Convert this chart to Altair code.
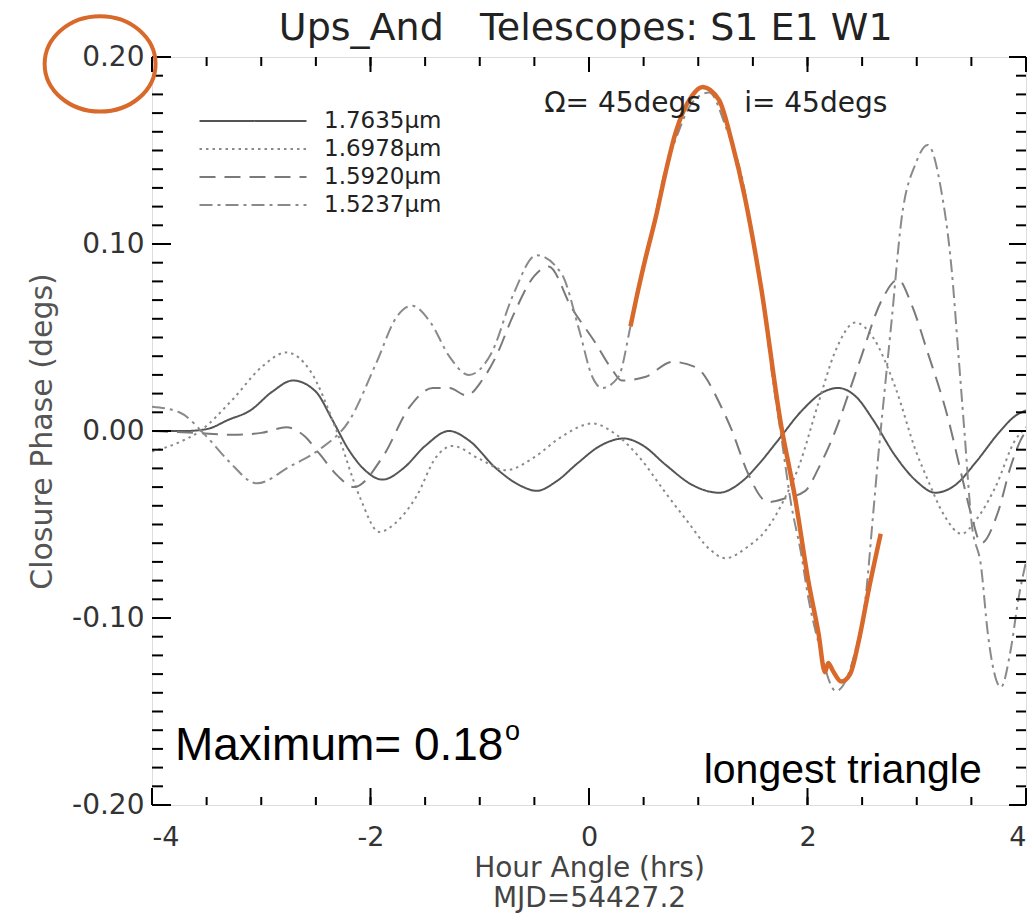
import altair as alt
import pandas as pd

# ---------------- data ----------------
series_names = ["1.7635µm", "1.6978µm", "1.5920µm", "1.5237µm"]

solid_x = [-4.0, -3.7, -3.5, -3.3, -3.1, -2.9, -2.71, -2.5, -2.35, -2.2, -2.05, -1.89, -1.7, -1.5,
           -1.28, -1.1, -0.85, -0.6, -0.48, -0.3, -0.1, 0.1, 0.32, 0.5, 0.7, 0.95, 1.19, 1.4,
           1.55, 1.73, 1.95, 2.15, 2.28, 2.45, 2.6, 2.8, 3.0, 3.17, 3.35, 3.55, 3.75, 3.9, 4.0]
solid_y = [0.000, 0.000, 0.001, 0.006, 0.011, 0.021, 0.027, 0.021, 0.006, -0.010, -0.021, -0.026,
           -0.020, -0.008, 0.000, -0.005, -0.020, -0.030, -0.032, -0.027, -0.017, -0.008, -0.004,
           -0.008, -0.018, -0.029, -0.033, -0.027, -0.018, -0.005, 0.011, 0.021, 0.023, 0.018,
           0.006, -0.013, -0.027, -0.033, -0.029, -0.016, -0.001, 0.008, 0.011]

dotted_x = [-4.0, -3.75, -3.56, -3.26, -3.0, -2.77, -2.55, -2.31, -2.1, -1.92, -1.75, -1.58, -1.4,
            -1.25, -1.0, -0.76, -0.5, -0.25, 0.03, 0.25, 0.46, 0.7, 0.91, 1.1, 1.25, 1.45, 1.62,
            1.8, 1.92, 2.1, 2.25, 2.44, 2.6, 2.8, 3.0, 3.1, 3.25, 3.41, 3.55, 3.72, 3.9, 4.0]
dotted_y = [-0.011, -0.006, 0.000, 0.017, 0.034, 0.042, 0.032, 0.000, -0.035, -0.054, -0.048,
            -0.035, -0.014, -0.008, -0.015, -0.021, -0.014, -0.003, 0.004, -0.002, -0.014, -0.033,
            -0.049, -0.063, -0.068, -0.062, -0.053, -0.035, -0.019, 0.015, 0.042, 0.058, 0.050,
            0.024, -0.012, -0.026, -0.045, -0.055, -0.047, -0.030, -0.005, 0.002]

dashed_x = [-4.0, -3.6, -3.26, -3.0, -2.77, -2.6, -2.47, -2.3, -2.15, -1.89, -1.64, -1.43, -1.28,
            -1.12, -0.98, -0.85, -0.7, -0.5, -0.37, -0.16, 0.06, 0.21, 0.30, 0.52, 0.76, 0.98,
            1.21, 1.31, 1.45, 1.64, 1.8, 1.98, 2.1, 2.22, 2.47, 2.68, 2.83, 2.95, 3.1, 3.29, 3.4,
            3.5, 3.59, 3.74, 3.86, 3.95, 4.0]
dashed_y = [0.000, -0.001, -0.002, -0.001, 0.002, -0.003, -0.012, -0.024, -0.030, -0.014, 0.013,
            0.023, 0.023, 0.019, 0.027, 0.040, 0.061, 0.083, 0.088, 0.066, 0.047, 0.033, 0.027,
            0.029, 0.037, 0.034, 0.013, 0.000, -0.022, -0.038, -0.036, -0.032, -0.020, -0.005,
            0.036, 0.070, 0.081, 0.068, 0.042, 0.006, -0.021, -0.045, -0.060, -0.044, -0.019,
            -0.005, 0.000]

dashdot_x = [-4.0, -3.75, -3.5, -3.3, -3.04, -2.74, -2.47, -2.19, -1.95, -1.76, -1.62, -1.45,
             -1.28, -1.1, -0.89, -0.7, -0.48, -0.25, -0.09, 0.03, 0.12, 0.27, 0.38, 0.5, 0.59,
             0.67, 0.8, 0.95, 1.1, 1.25, 1.43, 1.51, 1.58, 1.67, 1.76, 1.85, 1.94, 2.01, 2.1,
             2.26, 2.44, 2.53, 2.6, 2.65, 2.71, 2.77, 2.86, 2.99, 3.1, 3.22, 3.32, 3.38, 3.44,
             3.5, 3.59, 3.65, 3.77, 3.86, 3.93, 4.0]
dashdot_y = [0.013, 0.010, -0.003, -0.016, -0.028, -0.019, -0.010, 0.006, 0.036, 0.061, 0.067,
             0.058, 0.040, 0.030, 0.042, 0.072, 0.094, 0.084, 0.054, 0.029, 0.023, 0.029, 0.056,
             0.090, 0.110, 0.133, 0.157, 0.176, 0.181, 0.163, 0.127, 0.098, 0.077, 0.033, -0.003,
             -0.039, -0.065, -0.090, -0.113, -0.139, -0.117, -0.090, -0.045, -0.012, 0.024, 0.059,
             0.113, 0.143, 0.153, 0.130, 0.086, 0.042, -0.003, -0.048, -0.073, -0.108, -0.137,
             -0.117, -0.090, -0.070]

highlight_x = [0.38, 0.43, 0.52, 0.61, 0.70, 0.79, 0.94, 1.04, 1.19, 1.31, 1.43, 1.58, 1.75,
               1.89, 2.01, 2.10, 2.16, 2.19, 2.23, 2.31, 2.39, 2.47, 2.56, 2.67]
highlight_y = [0.056, 0.070, 0.093, 0.114, 0.138, 0.159, 0.179, 0.184, 0.177, 0.154, 0.124,
               0.075, 0.006, -0.037, -0.081, -0.108, -0.129, -0.124, -0.128, -0.134, -0.130,
               -0.112, -0.085, -0.055]

x_major = [-4, -2, 0, 2, 4]
x_minor = [-4 + 0.5 * i for i in range(17)]
y_major = [-0.2, -0.1, 0.0, 0.1, 0.2]
y_minor = [round(-0.2 + 0.01 * i, 2) for i in range(41)]

x_title = ["Hour Angle (hrs)", "MJD=54427.2"]
y_title = "Closure Phase (degs)"

# annotation anchors (data coordinates) and texts
ann_title = {"x": -0.03, "y": 0.2091, "t": "Ups_And\u00a0\u00a0\u00a0Telescopes: S1 E1 W1"}
ann_omega = {"x": -0.41, "y": 0.1705, "t": "Ω= 45degs"}
ann_incl = {"x": 1.42, "y": 0.1705, "t": "i= 45degs"}
ann_max = {"x": -3.79, "y": -0.176, "t": "Maximum= 0.18"}
ann_max_sup = {"x": -0.77, "y": -0.1655, "t": "o"}
ann_tri = {"x": 1.05, "y": -0.188, "t": "longest triangle"}
ann_circle = {"x": -4.475, "y": 0.1963}

# ---------------- build tables ----------------
rows = []
for name, xs, ys in zip(series_names, [solid_x, dotted_x, dashed_x, dashdot_x],
                        [solid_y, dotted_y, dashed_y, dashdot_y]):
    for xv, yv in zip(xs, ys):
        rows.append({"series": name, "x": xv, "y": yv})
df = pd.DataFrame(rows)
hl = pd.DataFrame({"x": highlight_x, "y": highlight_y})

FONT = "Liberation Sans"      # annotation font (added text)
IDL = "DejaVu Sans"           # wider font for the plot's own texts
W, H = 874, 748
ORANGE = "#D9692A"
MINUS_FIX = "replace(datum.label, '\u2212', '-')"

X = alt.X("x:Q", scale=alt.Scale(domain=[-4, 4], nice=False, zero=False),
          axis=alt.Axis(values=x_major, format="d", labelExpr=MINUS_FIX, title=x_title,
                        domain=False, ticks=False, grid=False, labelFont=IDL, labelFontSize=27,
                        labelColor="#333", labelPadding=19, titleFont=IDL, titleFontSize=28,
                        titleFontWeight="normal", titleColor="#444", titlePadding=4,
                        titleLineHeight=30))
Y = alt.Y("y:Q", scale=alt.Scale(domain=[-0.2, 0.2], nice=False, zero=False),
          axis=alt.Axis(values=y_major, format=".2f", labelExpr=MINUS_FIX, title=y_title,
                        domain=False, ticks=False, grid=False, labelFont=IDL, labelFontSize=28,
                        labelColor="#333", labelPadding=8, titleFont=IDL, titleFontSize=30,
                        titleFontWeight="normal", titleColor="#555", titlePadding=14))

legend = alt.Legend(title=None, orient="none", legendX=89, legendY=52,
                    symbolType="M -5 0 L 5 0", symbolSize=458, symbolStrokeWidth=2,
                    symbolOpacity=1, labelFont=IDL, labelFontSize=23, labelColor="#222",
                    labelOffset=59, rowPadding=4, padding=0)

lines = alt.Chart(df).mark_line(strokeWidth=2, interpolate="monotone", clip=True).encode(
    x=X, y=Y,
    color=alt.Color("series:N", sort=series_names,
                    scale=alt.Scale(domain=series_names,
                                    range=["#555555", "#8a8a8a", "#7a7a7a", "#8a8a8a"]),
                    legend=legend),
    strokeDash=alt.StrokeDash("series:N", sort=series_names,
                              scale=alt.Scale(domain=series_names,
                                              range=[[1, 0], [2.5, 4], [16, 9], [13, 5, 3, 5]]),
                              legend=legend),
)

highlight = alt.Chart(hl).mark_line(color=ORANGE, strokeWidth=4.5, interpolate="monotone").encode(
    x=X, y=Y)

# inward ticks
xt_major = pd.DataFrame({"x": x_major})
xt_minor = pd.DataFrame({"x": x_minor})
yt_major = pd.DataFrame({"y": y_major})
yt_minor = pd.DataFrame({"y": y_minor})
tick_style = dict(color="black", strokeWidth=2)
ticks = [
    alt.Chart(xt_major).mark_rule(**tick_style).encode(x=X, y=alt.value(H), y2=alt.value(H - 17)),
    alt.Chart(xt_minor).mark_rule(**tick_style).encode(x=X, y=alt.value(H), y2=alt.value(H - 8)),
    alt.Chart(xt_major).mark_rule(**tick_style).encode(x=X, y=alt.value(0), y2=alt.value(15)),
    alt.Chart(xt_minor).mark_rule(**tick_style).encode(x=X, y=alt.value(0), y2=alt.value(9)),
    alt.Chart(yt_major).mark_rule(**tick_style).encode(y=Y, x=alt.value(0), x2=alt.value(19)),
    alt.Chart(yt_minor).mark_rule(**tick_style).encode(y=Y, x=alt.value(0), x2=alt.value(11)),
    alt.Chart(yt_major).mark_rule(**tick_style).encode(y=Y, x=alt.value(W), x2=alt.value(W - 17)),
    alt.Chart(yt_minor).mark_rule(**tick_style).encode(y=Y, x=alt.value(W), x2=alt.value(W - 10)),
]


def text_layer(a, size, color, font, align="left"):
    return alt.Chart(pd.DataFrame([a])).mark_text(
        align=align, baseline="alphabetic", font=font, fontSize=size, color=color
    ).encode(x=X, y=Y, text="t:N")


texts = [
    text_layer(ann_title, 38, "#222", IDL, align="center"),
    text_layer(ann_omega, 28, "#222", IDL),
    text_layer(ann_incl, 28, "#222", IDL),
    text_layer(ann_max, 46, "black", FONT),
    text_layer(ann_max_sup, 27, "black", FONT),
    text_layer(ann_tri, 41, "black", FONT),
]

ellipse = alt.Chart(pd.DataFrame([ann_circle])).mark_point(
    shape="M -1 0 A 1 0.86 0 1 1 1 0 A 1 0.86 0 1 1 -1 0 Z",
    size=12300, filled=False, stroke=ORANGE, strokeWidth=4, opacity=1
).encode(x=X, y=Y)

chart = alt.layer(lines, *ticks, highlight, *texts, ellipse).properties(
    width=W, height=H,
    autosize=alt.AutoSizeParams(type="none"),
    padding={"left": 152, "top": 57, "right": 3, "bottom": 112},
).configure_view(stroke="black", strokeWidth=2.5).configure(background="white")

chart.save("out.html", embed_options={"renderer": "svg", "actions": False})
